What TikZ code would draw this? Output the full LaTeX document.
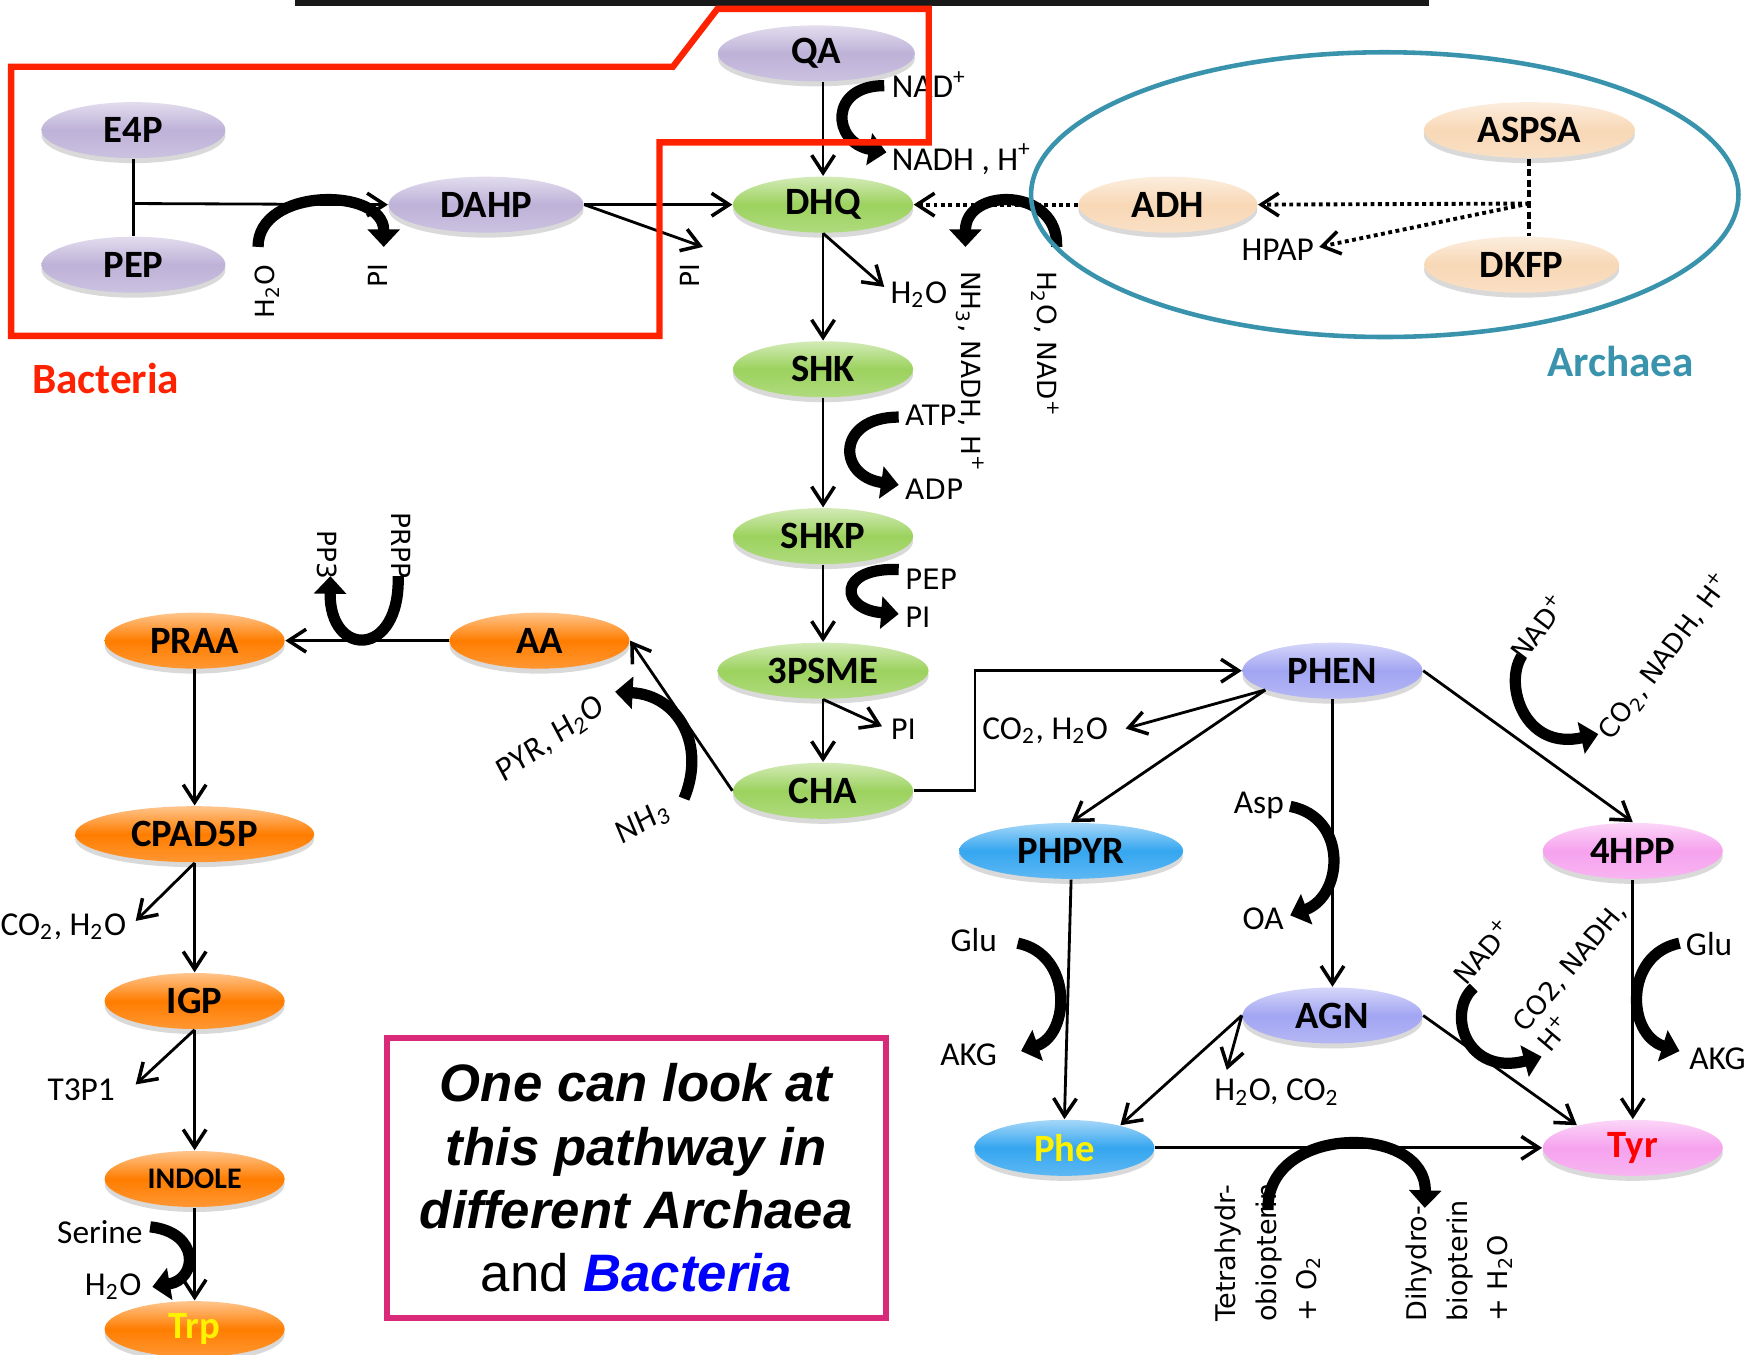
\documentclass[tikz,border=0pt]{standalone}
\usepackage{fontspec}
\setmainfont{Carlito}
\newfontfamily\dejavu{DejaVu Sans}
\newfontfamily\arialfam{Liberation Sans}
\usetikzlibrary{shapes.geometric,shadows,arrows.meta}

\definecolor{lilac}{HTML}{BEB2D8}
\definecolor{leaf}{HTML}{9CD25E}
\definecolor{peach}{HTML}{F8D8B6}
\definecolor{periw}{HTML}{A2A5F2}
\definecolor{sky}{HTML}{35A6F0}
\definecolor{orchid}{HTML}{F6A2EE}
\definecolor{tang}{HTML}{FF7D00}
\definecolor{bactred}{HTML}{FF2200}
\definecolor{archteal}{HTML}{3A93AC}
\definecolor{boxpink}{HTML}{D92A79}

\newcommand{\molfont}{\bfseries\fontsize{11}{13}\selectfont}
\newcommand{\labfont}{\fontsize{9.5}{11}\selectfont}
\newcommand{\rotfont}{\dejavu\fontsize{7.5}{9}\selectfont}

\begin{document}
\begin{tikzpicture}[x=0.011122cm,y=-0.011122cm,
  mol/.style={ellipse,inner sep=0pt,minimum width=1.8cm,minimum height=0.56cm,
    top color=#1!45!white,bottom color=#1!80!white,middle color=#1,
    drop shadow={opacity=0.3,shadow xshift=0pt,shadow yshift=-0.05cm},font=\molfont},
  flow/.style={line width=0.8pt,-{Straight Barb[length=5pt,width=6.5pt,line width=1pt]}},
  dotflow/.style={flow,line width=1.1pt,densely dotted},
  cofac/.style={line width=3.2pt,-{Triangle[length=5pt,width=9pt]}},
  lab/.style={font=\labfont,inner sep=1pt},
  rlab/.style={font=\rotfont,inner sep=1pt},
  vlab/.style={font=\dejavu\fontsize{8}{10}\selectfont,inner sep=1pt}]
  \useasboundingbox (0,0) rectangle (1568,1218);
  \fill[black!90] (265,-6) rectangle (1285,5);

  \node[mol=lilac,minimum width=1.84cm] (E4P) at (120,117) {E4P};
  \node[mol=lilac,minimum width=1.84cm] (PEP) at (120,238) {PEP};
  \node[mol=lilac,minimum width=1.95cm] (DAHP) at (437,184) {DAHP};
  \node[mol=lilac,minimum width=1.97cm] (QA) at (734,48) {QA};
  \node[mol=leaf] (DHQ) at (740,184) {DHQ};
  \node[mol=leaf] (SHK) at (740,332) {SHK};
  \node[mol=leaf] (SHKP) at (740,482) {SHKP};
  \node[mol=leaf,minimum width=2.11cm] (PSME) at (740,603) {3PSME};
  \node[mol=leaf] (CHA) at (740,711) {CHA};
  \node[mol=peach,minimum width=1.79cm] (ADH) at (1050,184) {ADH};
  \node[mol=peach,minimum width=2.11cm] (ASPSA) at (1375,117) {ASPSA};
  \node[mol=peach,minimum width=1.95cm] (DKFP) at (1368,238) {DKFP};
  \node[mol=periw] (PHEN) at (1198,603) {PHEN};
  \node[mol=periw] (AGN) at (1198,913) {AGN};
  \node[mol=sky,minimum width=2.24cm] (PHPYR) at (963,765) {PHPYR};
  \node[mol=sky,text=yellow] (Phe) at (957,1032) {Phe};
  \node[mol=orchid] (HPP) at (1468,765) {4HPP};
  \node[mol=orchid,text=red] (Tyr) at (1468,1032) {Tyr};
  \node[mol=tang] (AA) at (485,576) {AA};
  \node[mol=tang] (PRAA) at (175,576) {PRAA};
  \node[mol=tang,minimum width=2.39cm] (CPAD) at (175,750) {CPAD5P};
  \node[mol=tang] (IGP) at (175,900) {IGP};
  \node[mol=tang,font=\bfseries\fontsize{8.5}{10}\selectfont] (INDOLE) at (175,1060) {INDOLE};
  \node[mol=tang,text=yellow] (Trp) at (175,1195) {Trp};

  \coordinate (fork) at (120,183);
  \coordinate (piAend) at (632,222);
  \coordinate (h2oBend) at (795,258);
  \coordinate (split) at (1375,183);
  \coordinate (hpapend) at (1186,222);
  \coordinate (piCend) at (793,653);
  \coordinate (co2Aend) at (1012,655);
  \coordinate (wcend) at (1103,962);
  \coordinate (co2Bend) at (122,828);
  \coordinate (t3end) at (122,975);

  \draw[line width=0.8pt] (E4P.south) -- (PEP.north);
  \draw[flow] (fork) -- (DAHP.west);
  \draw[flow] (DAHP.east) -- (DHQ.west);
  \draw[flow] (DAHP.east) -- (piAend);
  \draw[flow] (DHQ.north |- QA.south) -- (DHQ.north);
  \draw[flow] (DHQ.south) -- (SHK.north);
  \draw[flow] (DHQ.south) -- (h2oBend);
  \draw[dotflow] (ADH.west) -- (DHQ.east);
  \draw[line width=1.1pt,dash pattern=on 2pt off 1pt] (ASPSA.south) -- (split) -- (split |- DKFP.north);
  \draw[dotflow] (split) -- (ADH.east);
  \draw[dotflow] (split) -- (hpapend);
  \draw[flow] (SHK.south) -- (SHKP.north);
  \draw[flow] (SHKP.south) -- (PSME.north);
  \draw[flow] (PSME.south) -- (CHA.north);
  \draw[flow] (PSME.south) -- (piCend);
  \draw[flow] (CHA.east) -- ++(55,0) |- (PHEN.west);
  \draw[flow] (CHA.west) -- (AA.east);
  \draw[flow] (AA.west) -- (PRAA.east);
  \draw[flow] (PRAA.south) -- (CPAD.north);
  \draw[flow] (CPAD.south) -- (IGP.north);
  \draw[flow] (CPAD.south) -- (co2Bend);
  \draw[flow] (IGP.south) -- (INDOLE.north);
  \draw[flow] (IGP.south) -- (t3end);
  \draw[flow] (INDOLE.south) -- (Trp.north);
  \draw[flow] (PHEN.196) -- (PHPYR.north);
  \draw[flow] (PHEN.196) -- (co2Aend);
  \draw[flow] (PHEN.south) -- (AGN.north);
  \draw[flow] (PHEN.east) -- (HPP.north);
  \draw[flow] (PHPYR.south) -- (Phe.north);
  \draw[flow] (HPP.south) -- (Tyr.north);
  \draw[flow] (AGN.west) -- (Phe.22);
  \draw[flow] (AGN.west) -- (wcend);
  \draw[flow] (AGN.east) -- (Tyr.158);
  \draw[flow] (Phe.east) -- (Tyr.west);

  \coordinate (h2oAin) at (232,222);
  \coordinate (piAout) at (345,222);
  \coordinate (nadAin) at (795,77);
  \coordinate (nadhAout) at (797,137);
  \coordinate (nadBin) at (950,222);
  \coordinate (nh3Aout) at (868,222);
  \coordinate (atpin) at (808,375);
  \coordinate (adpout) at (808,436);
  \coordinate (pepin) at (808,512);
  \coordinate (piBout) at (808,552);
  \coordinate (nh3Bin) at (615,718);
  \coordinate (pyrout) at (553,622);
  \coordinate (prppin) at (358,518);
  \coordinate (pp3out) at (297,518);
  \coordinate (serin) at (135,1103);
  \coordinate (h2oCout) at (137,1157);
  \coordinate (nadCin) at (1368,590);
  \coordinate (co2Cout) at (1437,660);
  \coordinate (aspin) at (1160,725);
  \coordinate (oaout) at (1160,823);
  \coordinate (gluAin) at (915,848);
  \coordinate (akgAout) at (918,945);
  \coordinate (gluBin) at (1510,848);
  \coordinate (akgBout) at (1510,945);
  \coordinate (nadDin) at (1325,888);
  \coordinate (co2Dout) at (1386,950);
  \coordinate (thbin) at (1140,1088);
  \coordinate (dhbout) at (1281,1086);

  \draw[cofac] (h2oAin) .. controls (232,168) and (345,168) .. (piAout);
  \draw[cofac] (nadAin) .. controls (745,77) and (748,128) .. (nadhAout);
  \draw[cofac] (nadBin) .. controls (952,168) and (868,168) .. (nh3Aout);
  \draw[cofac] (atpin) .. controls (752,375) and (752,428) .. (adpout);
  \draw[cofac] (pepin) .. controls (752,510) and (755,548) .. (piBout);
  \draw[cofac] (nh3Bin) .. controls (635,670) and (610,625) .. (pyrout);
  \draw[cofac] (prppin) .. controls (360,592) and (296,592) .. (pp3out);
  \draw[cofac] (serin) .. controls (180,1108) and (178,1150) .. (h2oCout);
  \draw[cofac] (nadCin) .. controls (1352,615) and (1370,675) .. (co2Cout);
  \draw[cofac] (aspin) .. controls (1212,735) and (1208,805) .. (oaout);
  \draw[cofac] (gluAin) .. controls (965,858) and (962,930) .. (akgAout);
  \draw[cofac] (gluBin) .. controls (1460,858) and (1462,930) .. (akgBout);
  \draw[cofac] (nadDin) .. controls (1300,910) and (1318,968) .. (co2Dout);
  \draw[cofac] (thbin) .. controls (1138,1010) and (1283,1010) .. (dhbout);

  \node[rlab,rotate=90] (h2oA) at (240,262) {H\textsubscript{2}O};
  \node[rlab,rotate=90] (piA) at (340,248) {PI};
  \node[rlab,rotate=90] (piAlab) at (620,248) {PI};
  \node[lab,anchor=west] (nadA) at (798,76) {NAD\textsuperscript{+}};
  \node[lab,anchor=west] (nadhA) at (798,143) {NADH , H\textsuperscript{+}};
  \node[lab,anchor=west] (h2oB) at (797,265) {H\textsubscript{2}O};
  \node[rlab,rotate=-90,anchor=west] (nh3A) at (872,240) {NH\textsubscript{3}, NADH, H\textsuperscript{+}};
  \node[rlab,rotate=-90,anchor=west] (nadB) at (940,240) {H\textsubscript{2}O, NAD\textsuperscript{+}};
  \node[lab,anchor=east] (hpap) at (1185,225) {HPAP};
  \node[vlab,anchor=west] (atp) at (810,373) {ATP};
  \node[vlab,anchor=west] (adp) at (810,440) {ADP};
  \node[vlab,anchor=west] (pep) at (810,521) {PEP};
  \node[vlab,anchor=west] (piB) at (810,555) {PI};
  \node[vlab,anchor=west] (piC) at (797,656) {PI};
  \node[lab,rotate=35,font=\labfont\itshape] (pyr) at (495,665) {PYR, H\textsubscript{2}O};
  \node[lab,rotate=30,font=\labfont\itshape] (nh3B) at (578,740) {NH\textsubscript{3}};
  \node[rlab,rotate=-90,anchor=west] (pp3) at (294,473) {PP3};
  \node[rlab,rotate=-90,anchor=west] (prpp) at (361,457) {PRPP};
  \node[lab] (co2B) at (57,833) {CO\textsubscript{2}, H\textsubscript{2}O};
  \node[lab] (t3p) at (73,980) {T3P1};
  \node[lab,anchor=east] (ser) at (132,1108) {Serine};
  \node[lab,anchor=east] (h2oC) at (131,1157) {H\textsubscript{2}O};
  \node[lab,anchor=east] (co2A) at (1000,657) {CO\textsubscript{2}, H\textsubscript{2}O};
  \node[rlab,rotate=53] (nadC) at (1383,563) {NAD\textsuperscript{+}};
  \node[rlab,rotate=53] (co2C) at (1497,590) {CO\textsubscript{2}, NADH, H\textsuperscript{+}};
  \node[lab,anchor=east] (asp) at (1158,724) {Asp};
  \node[lab,anchor=east] (oa) at (1158,826) {OA};
  \node[lab,anchor=east] (gluA) at (900,845) {Glu};
  \node[lab,anchor=east] (akgA) at (900,948) {AKG};
  \node[lab,anchor=west] (gluB) at (1512,849) {Glu};
  \node[lab,anchor=west] (akgB) at (1515,952) {AKG};
  \node[lab] (wc) at (1148,982) {H\textsubscript{2}O, CO\textsubscript{2}};
  \node[rlab,rotate=50] (nadD) at (1333,855) {NAD\textsuperscript{+}};
  \node[rlab,rotate=50,align=left] (co2D) at (1422,878) {CO2, NADH,\\H\textsuperscript{+}};
  \node[rlab,rotate=90,anchor=west,align=left,font=\dejavu\fontsize{7.7}{11.5}\selectfont] (thb) at (1140,1192) {Tetrahydr-\\obiopterin\\+ O\textsubscript{2}};
  \node[rlab,rotate=90,anchor=west,align=left,font=\dejavu\fontsize{7.7}{11.5}\selectfont] (dhb) at (1312,1192) {Dihydro-\\biopterin\\+ H\textsubscript{2}O};

  \draw[bactred,line width=1.8pt] (10,60) -- (605,60) -- (645,8) -- (835,8) -- (835,128) -- (593,128) -- (593,302) -- (10,302) -- cycle;
  \draw[archteal,line width=1.3pt] (1245,175) ellipse [x radius=318,y radius=128];
  \node[font=\bfseries\fontsize{12.3}{15}\selectfont,text=bactred] (bactlab) at (95,340) {Bacteria};
  \node[font=\bfseries\fontsize{12.3}{15}\selectfont,text=archteal] (archlab) at (1457,325) {Archaea};
  \node[draw=boxpink,line width=1.8pt,minimum width=4.99cm,minimum height=2.8cm,align=center,
    font=\arialfam\bfseries\itshape\fontsize{15}{18}\selectfont] (note) at (572,1059)
    {One can look at\\this pathway in\\different Archaea\\{\mdseries\upshape and} \textcolor{blue}{Bacteria}};
\end{tikzpicture}
\end{document}
